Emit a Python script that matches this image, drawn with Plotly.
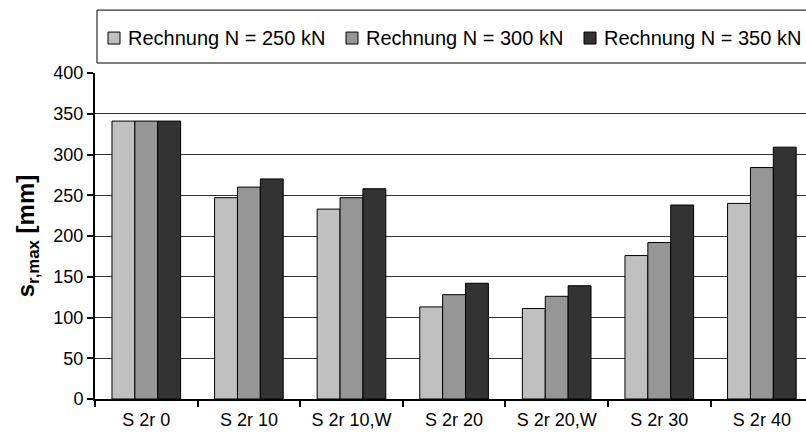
import plotly.graph_objects as go

categories = ["S 2r 0", "S 2r 10", "S 2r 10,W", "S 2r 20", "S 2r 20,W", "S 2r 30", "S 2r 40"]
series_names = ["Rechnung N = 250 kN", "Rechnung N = 300 kN", "Rechnung N = 350 kN"]
values_250 = [341, 247, 233, 113, 111, 176, 240]
values_300 = [341, 260, 247, 128, 126, 192, 284]
values_350 = [341, 270, 258, 142, 139, 238, 309]
series_values = [values_250, values_300, values_350]
colors = ["#C0C0C0", "#969696", "#333333"]
y_ticks = [0, 50, 100, 150, 200, 250, 300, 350, 400]

W, H = 806, 434
ML, MR, MT, MB = 95, 0, 73, 34.5
PW = W - ML - MR
PH = H - MT - MB

def px(x):
    return (x - ML) / PW

def py(y):
    return (H - MB - y) / PH

fig = go.Figure()
for name, vals, col in zip(series_names, series_values, colors):
    fig.add_trace(go.Bar(x=categories, y=vals, name=name, marker_color=col,
                         marker_line_color="black", marker_line_width=1,
                         showlegend=False))

# legend box
shapes = [dict(type="rect", xref="paper", yref="paper",
               x0=px(97), x1=px(812), y0=py(63), y1=py(10),
               line=dict(color="black", width=1), fillcolor="rgba(0,0,0,0)")]
annotations = []
for i, (name, col) in enumerate(zip(series_names, colors)):
    x0 = 108 + 238 * i
    shapes.append(dict(type="rect", xref="paper", yref="paper",
                       x0=px(x0), x1=px(x0 + 12), y0=py(44), y1=py(32),
                       line=dict(color="black", width=1), fillcolor=col))
    annotations.append(dict(xref="paper", yref="paper", x=px(x0 + 18), y=py(37.5),
                            text=name, showarrow=False, xanchor="left", yanchor="middle",
                            font=dict(family="Liberation Sans, Arial", size=20, color="black")))

fig.update_layout(
    width=W, height=H,
    margin=dict(l=ML, r=MR, t=MT, b=MB),
    paper_bgcolor="white", plot_bgcolor="white",
    barmode="group", bargap=0.331, bargroupgap=0,
    showlegend=False,
    shapes=shapes, annotations=annotations,
    font=dict(family="Liberation Sans, Arial", size=18, color="black"),
)
fig.update_xaxes(range=[-0.5, 6.43], showline=True, linecolor="black", linewidth=2,
                 ticks="outside", tickson="boundaries", ticklen=6, tickwidth=2,
                 tickcolor="black", showgrid=False, tickfont=dict(size=18),
                 ticklabelstandoff=3)
fig.update_yaxes(range=[0, 400], tickvals=y_ticks, showline=True, linecolor="black",
                 linewidth=2, ticks="outside", ticklen=6, tickwidth=2, tickcolor="black",
                 showgrid=True, gridcolor="#333333", gridwidth=1, zeroline=False,
                 tickfont=dict(size=18),
                 title=dict(text="<b>s<sub>r,max</sub> [mm]</b>", font=dict(size=24), standoff=12))

fig.write_html("out.html")
